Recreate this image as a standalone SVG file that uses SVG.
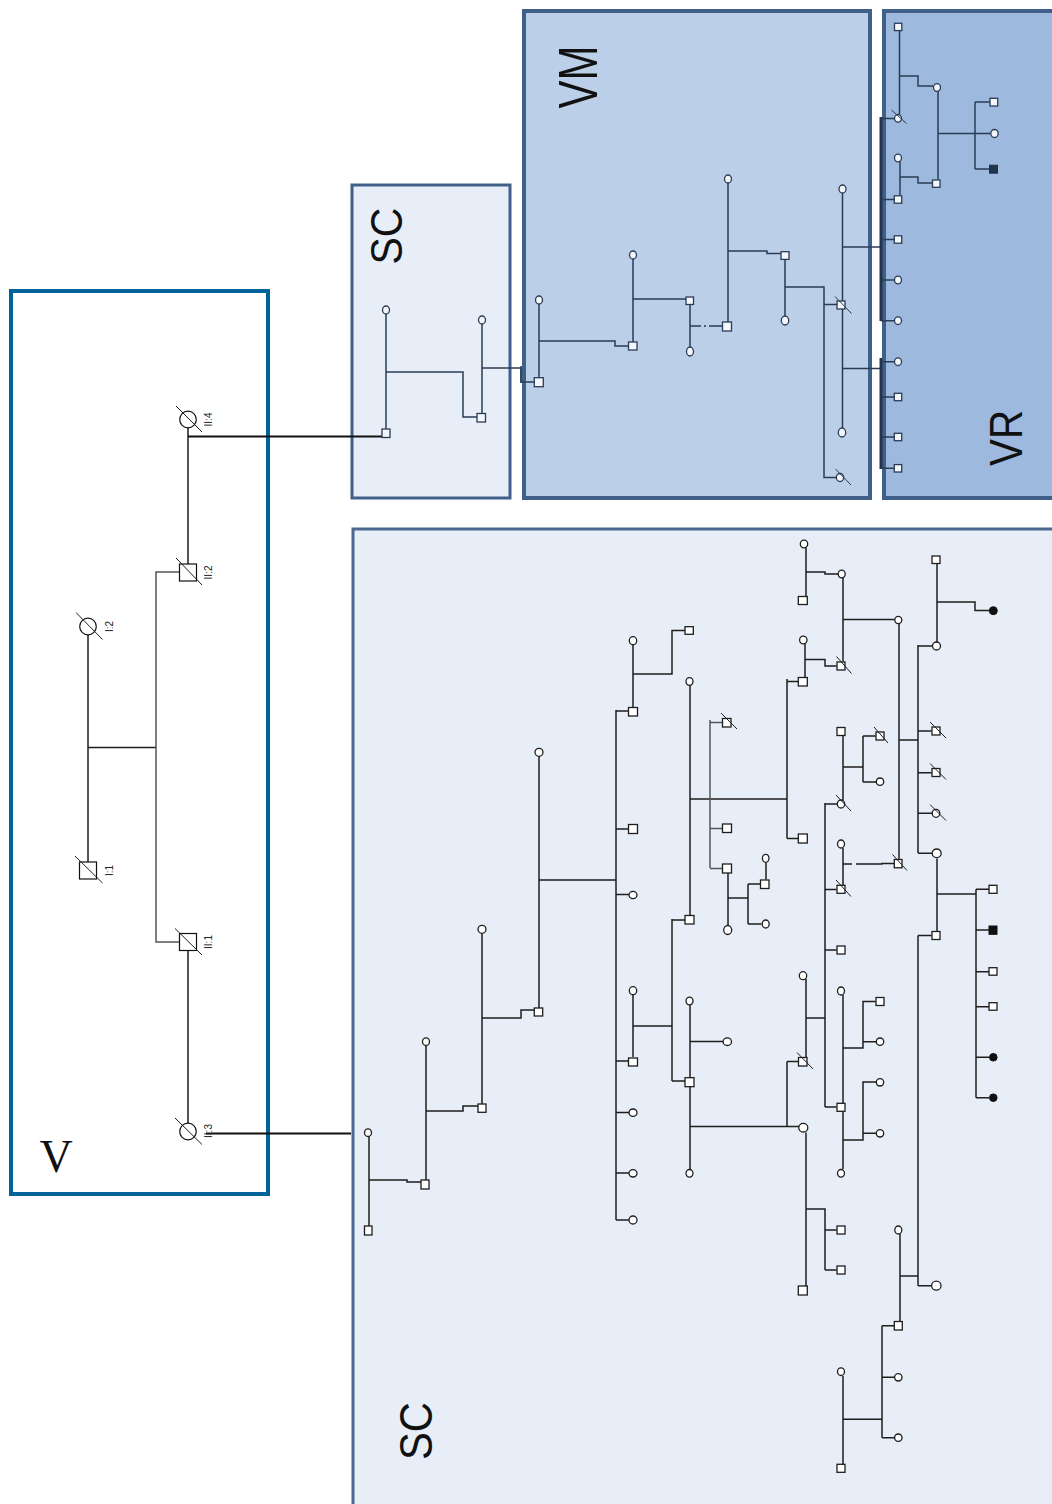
<svg xmlns="http://www.w3.org/2000/svg" width="1052" height="1504" viewBox="0 0 1052 1504">
<style>
.l{fill:none;stroke:#1e1e1e;stroke-width:1.5}
.lg{fill:none;stroke:#555;stroke-width:1.5}
.lk{fill:none;stroke:#111;stroke-width:2.2}
.lb{fill:none;stroke:#2a3c54;stroke-width:1.5}
.lbk{fill:none;stroke:#22344c;stroke-width:3}
.s{fill:#fff;stroke:#1e1e1e;stroke-width:1.3}
.sb{fill:#f3f6fb;stroke:#2a3c54;stroke-width:1.3}
.x{stroke:#1e1e1e;stroke-width:1}
.xb{stroke:#2a3c54;stroke-width:1}
.f{fill:#111;stroke:#111;stroke-width:1}
.fb{fill:#22344c;stroke:#22344c;stroke-width:1}
.v{fill:#fff;stroke:#111;stroke-width:1.2}
.lab{font-family:"Liberation Sans",Arial,sans-serif;font-size:10px;fill:#222}
.big{font-family:"Liberation Sans",Arial,sans-serif;fill:#111}
</style>
<rect width="1052" height="1504" fill="#fff"/>
<g id="boxes">
<rect id="box-V" x="11" y="291" width="257" height="903" fill="#fff" stroke="#00639a" stroke-width="4"/>
<rect id="box-SC-top" x="352" y="185" width="158" height="313" fill="#e7eef8" stroke="#40608a" stroke-width="3"/>
<rect id="box-VM" x="524" y="11" width="346" height="487" fill="#bccfe8" stroke="#40608a" stroke-width="4"/>
<rect id="box-VR" x="884" y="11" width="190" height="487" fill="#9db9dd" stroke="#40608a" stroke-width="4"/>
<rect id="box-SC-low" x="353" y="529" width="720" height="1000" fill="#e8eef7" stroke="#4a6890" stroke-width="3"/>
<text class="big" x="56" y="1172" font-family="'Liberation Serif',serif" font-size="46" text-anchor="middle" style="font-family:'Liberation Serif',serif">V</text>
<text class="big" x="402" y="236" font-size="44" text-anchor="middle" textLength="57" lengthAdjust="spacingAndGlyphs" transform="rotate(-90 402 236)">SC</text>
<text class="big" x="597" y="77" font-size="56" text-anchor="middle" textLength="63" lengthAdjust="spacingAndGlyphs" transform="rotate(-90 597 77)">VM</text>
<text class="big" x="1022" y="438" font-size="47" text-anchor="middle" textLength="56" lengthAdjust="spacingAndGlyphs" transform="rotate(-90 1022 438)">VR</text>
<text class="big" x="432" y="1431" font-size="47" text-anchor="middle" textLength="58" lengthAdjust="spacingAndGlyphs" transform="rotate(-90 432 1431)">SC</text>
</g>
<g id="connectors">
<path class="l" d="M188 428V564M88 635V862M88 747.5H156M188 950.5V1123"/>
<path class="lg" d="M179.5 572H156V942H179.5"/>
<path class="lk" d="M188 436.5H382M206 1133.5H351"/>
<path class="lb" d="M386 314V429M386 372H463V417H477M482 324V414M482 368H521V382H534"/>
<path class="lb" stroke-width="2.5" d="M521 366V383"/>
<path class="lb" d="M539 304V378M539 341H615V346H628M633 259V342M633 299H686M690 305V347M690 326H701M704 326H706M709 326H722M728 183V322M728 251H767V253.5H781M785 259.5V316M785 287H824V477.5H836M824 304.5H837M842.5 193V428M842.5 247H881M842.5 368.5H881"/>
<path class="lbk" d="M881 117V321M881 358V469"/>
<path class="lb" d="M881 118.5H894M881 199.5H894M881 239.5H894M881 280H894.5M881 320.7H894.5M881 361.7H894.5M881 397H894M881 437H894M881 468.3H894"/>
<path class="lb" d="M899.5 31V114M900 76H918V86H933M900 162V195M900 177H918V183H932M975 102V169M938 133.5H975M975 102H990M975 133.5H990.5M975 169H989.5"/>
<path class="lb" stroke-width="2.2" d="M938 91.5V179.5"/>
<path class="l" d="M369 1136V1226M369 1180H407V1182H421M426 1045V1180M426 1111H463V1106H478M482 933V1104M482 1018H521V1010H534M539 756V1008M539 880H616"/>
<path class="l" stroke-width="2.2" d="M616 710V1220"/>
<path class="l" d="M616 711H628M616 829H628M616 894.5H629M616 1061H628M616 1112.5H629M616 1173H629M616 1220H629"/>
<path class="l" d="M633 645V707M633 674H672V630.5H685M633 995V1057M633 1026H672M672 919V1081M672 920H685M672 1081H685"/>
<path class="l" d="M690 685V915M690 799H787M787 679V838.5M787 681.5H798M787 838.5H798"/>
<path class="lg" d="M710 720V868M710 722.5H722M710 828.5H722M710 868.5H722"/>
<path class="l" d="M728 873V925.5M728 898H748M748 884V924M748 884H760.5M748 924H761.5M766 862.5V879.5"/>
<path class="l" d="M690 1005V1169M690 1041.5H723M690 1126.5H799M787 1061.5V1126.5M787 1061.5H798"/>
<path class="l" d="M806 1132.5V1286M806 1209H825V1270M825 1230H836.5M825 1270H836.5"/>
<path class="l" d="M806 979V1057M806 1018H825M825 803V1107M825 804H837M825 889.5H836.5M825 950H836.5M825 1107H836.5"/>
<path class="l" d="M843 736V800M843 767H863M863 736V782M863 736H875.5M863 782H876"/>
<path class="l" d="M843 848V885M843 864H852M856 864H882V863.5H894"/>
<path class="l" d="M843 995V1169M843 1048H863V1001.5H875.5M863 1041.7H876M843 1140H863V1082H876M863 1133.3H876"/>
<path class="l" d="M806 548V596M806 572H825V574H838M843 578V661.5M843 619.5H894.5M805 644V677M805 659.5H825V666H836.5"/>
<path class="l" stroke-width="3.2" d="M899 624V859"/>
<path class="l" d="M899 740H918M918 645V853M918 646H932M918 731H931.5M918 772.7H931.5M918 813.3H932M918 853.3H932"/>
<path class="l" d="M937 564V642M937 602H975V610.5H989M937 858.5V931M937 894H976M976 889.3V1097.7M976 889.3H989M976 930H989M976 971.7H989M976 1006.7H989M976 1057.3H989M976 1097.7H989"/>
<path class="l" d="M918 935.5V1285.7M918 935.5H931.5M918 1285.7H931.5M900 1234V1321M900 1276H918M882 1325.7V1437.7M882 1325.7H894M882 1377.3H894.5M882 1437.7H894.5M843 1376V1464M843 1419.3H882"/>
</g>
<g id="n-I2"><circle class="v" cx="88" cy="626.5" r="8.3"/><line class="x" x1="76" y1="612.5" x2="102.5" y2="639.5"/><text class="lab" x="112.5" y="626.5" text-anchor="middle" transform="rotate(-90 112.5 626.5)">I:2</text></g>
<g id="n-I1"><rect class="v" x="79.5" y="862" width="17" height="17"/><line class="x" x1="75" y1="856" x2="102.5" y2="883"/><text class="lab" x="112.5" y="870.5" text-anchor="middle" transform="rotate(-90 112.5 870.5)">I:1</text></g>
<g id="n-II4"><circle class="v" cx="188" cy="419.5" r="8.3"/><line class="x" x1="176" y1="406" x2="202" y2="432"/><text class="lab" x="212" y="419.5" text-anchor="middle" transform="rotate(-90 212 419.5)">II:4</text></g>
<g id="n-II2"><rect class="v" x="179.5" y="564" width="17" height="17"/><line class="x" x1="176" y1="558" x2="202" y2="585"/><text class="lab" x="212" y="572.5" text-anchor="middle" transform="rotate(-90 212 572.5)">II:2</text></g>
<g id="n-II1"><rect class="v" x="179.5" y="933.5" width="17" height="17"/><line class="x" x1="175" y1="928.5" x2="202" y2="955"/><text class="lab" x="212" y="942" text-anchor="middle" transform="rotate(-90 212 942)">II:1</text></g>
<g id="n-II3"><circle class="v" cx="188" cy="1131.5" r="8.3"/><line class="x" x1="175" y1="1118" x2="202" y2="1144.5"/><text class="lab" x="212" y="1131" text-anchor="middle" transform="rotate(-90 212 1131)">II:3</text></g>
<g id="sct-1"><ellipse class="sb" cx="386" cy="310" rx="3.5" ry="4"/></g>
<g id="sct-2"><rect class="sb" x="382" y="429" width="8" height="8.5"/></g>
<g id="sct-3"><ellipse class="sb" cx="482" cy="320" rx="3.5" ry="4"/></g>
<g id="sct-4"><rect class="sb" x="477" y="413.5" width="8.5" height="8.5"/></g>
<g id="vm-1"><ellipse class="sb" cx="539" cy="300" rx="3.5" ry="4"/></g>
<g id="vm-2"><rect class="sb" x="534.3" y="377.7" width="9" height="9"/></g>
<g id="vm-3"><ellipse class="sb" cx="633" cy="255" rx="3.5" ry="4"/></g>
<g id="vm-4"><rect class="sb" x="628.5" y="342" width="8.5" height="8"/></g>
<g id="vm-5"><rect class="sb" x="686" y="297" width="7.5" height="7.5"/></g>
<g id="vm-6"><ellipse class="sb" cx="690" cy="351.5" rx="3.5" ry="4.5"/></g>
<g id="vm-7"><ellipse class="sb" cx="728" cy="179" rx="3.5" ry="4"/></g>
<g id="vm-8"><rect class="sb" x="722.5" y="322" width="9" height="9"/></g>
<g id="vm-9"><rect class="sb" x="781" y="251.7" width="8" height="7.7"/></g>
<g id="vm-10"><ellipse class="sb" cx="785" cy="320.5" rx="3.7" ry="4.5"/></g>
<g id="vm-11"><ellipse class="sb" cx="842.5" cy="189" rx="3.5" ry="4"/></g>
<g id="vm-12"><rect class="sb" x="837" y="301" width="8" height="8"/><line class="xb" x1="835" y1="296.5" x2="851.5" y2="313.5"/></g>
<g id="vm-13"><ellipse class="sb" cx="842" cy="432.5" rx="3.7" ry="4.5"/></g>
<g id="vm-14"><ellipse class="sb" cx="840" cy="477.5" rx="3.7" ry="4"/><line class="xb" x1="835.5" y1="469" x2="851" y2="485"/></g>
<g id="vr-1"><rect class="sb" x="894.5" y="23.3" width="7.3" height="7.3"/></g>
<g id="vr-2"><ellipse class="sb" cx="898" cy="118.3" rx="3.5" ry="3.8"/><line class="xb" x1="891.5" y1="110" x2="906.5" y2="123.5"/></g>
<g id="vr-3"><ellipse class="sb" cx="937" cy="87.5" rx="3.5" ry="3.8"/></g>
<g id="vr-4"><ellipse class="sb" cx="898" cy="158" rx="3.5" ry="3.8"/></g>
<g id="vr-5"><rect class="sb" x="932.5" y="180" width="7.5" height="7.3"/></g>
<g id="vr-6"><rect class="sb" x="894.3" y="195.8" width="7.4" height="7.4"/></g>
<g id="vr-7"><rect class="sb" x="894.3" y="235.8" width="7.4" height="7.4"/></g>
<g id="vr-8"><ellipse class="sb" cx="898" cy="280" rx="3.5" ry="3.8"/></g>
<g id="vr-9"><ellipse class="sb" cx="898" cy="320.7" rx="3.5" ry="3.8"/></g>
<g id="vr-10"><ellipse class="sb" cx="898" cy="361.7" rx="3.5" ry="3.8"/></g>
<g id="vr-11"><rect class="sb" x="894.3" y="393.3" width="7.4" height="7.4"/></g>
<g id="vr-12"><rect class="sb" x="894.3" y="433.3" width="7.4" height="7.4"/></g>
<g id="vr-13"><rect class="sb" x="894.3" y="464.6" width="7.4" height="7.4"/></g>
<g id="vr-14"><rect class="sb" x="990" y="98.3" width="7.7" height="7.7"/></g>
<g id="vr-15"><ellipse class="sb" cx="994.5" cy="133.5" rx="3.7" ry="4"/></g>
<g id="vr-16"><rect class="fb" x="989.5" y="165.2" width="8" height="8"/></g>
<g id="sc-1"><ellipse class="s" cx="368" cy="1132.7" rx="3.5" ry="3.8"/></g>
<g id="sc-2"><rect class="s" x="364.5" y="1226" width="7.5" height="9"/></g>
<g id="sc-3"><ellipse class="s" cx="426" cy="1041.7" rx="3.5" ry="3.8"/></g>
<g id="sc-4"><rect class="s" x="421" y="1180" width="8" height="9"/></g>
<g id="sc-5"><ellipse class="s" cx="482" cy="929.3" rx="4" ry="4"/></g>
<g id="sc-6"><rect class="s" x="478" y="1104" width="8" height="8.3"/></g>
<g id="sc-7"><ellipse class="s" cx="539" cy="752.3" rx="4" ry="4"/></g>
<g id="sc-8"><rect class="s" x="534.3" y="1008" width="8.4" height="8"/></g>
<g id="sc-9"><ellipse class="s" cx="633" cy="640.7" rx="3.7" ry="4"/></g>
<g id="sc-10"><rect class="s" x="628.5" y="707.5" width="9" height="8.5"/></g>
<g id="sc-11"><rect class="s" x="685" y="626.7" width="8.3" height="7.6"/></g>
<g id="sc-12"><rect class="s" x="628.5" y="824.5" width="9" height="9"/></g>
<g id="sc-13"><ellipse class="s" cx="633" cy="895" rx="4" ry="3.7"/></g>
<g id="sc-14"><ellipse class="s" cx="633" cy="990.7" rx="3.7" ry="4"/></g>
<g id="sc-15"><rect class="s" x="628.5" y="1058" width="9" height="8"/></g>
<g id="sc-16"><ellipse class="s" cx="633" cy="1112.7" rx="4" ry="3.7"/></g>
<g id="sc-17"><ellipse class="s" cx="633" cy="1173.3" rx="4" ry="3.7"/></g>
<g id="sc-18"><ellipse class="s" cx="633" cy="1220" rx="4" ry="4"/></g>
<g id="sc-19"><ellipse class="s" cx="689.5" cy="681.5" rx="3.5" ry="3.8"/></g>
<g id="sc-20"><rect class="s" x="685" y="915.5" width="9" height="8.5"/></g>
<g id="sc-21"><ellipse class="s" cx="689.5" cy="1001" rx="3.5" ry="3.8"/></g>
<g id="sc-22"><rect class="s" x="685" y="1077.7" width="9" height="9"/></g>
<g id="sc-23"><ellipse class="s" cx="689.5" cy="1173.3" rx="3.5" ry="3.8"/></g>
<g id="sc-24"><rect class="s" x="722.5" y="718.5" width="8.5" height="8.5"/><line class="x" x1="721" y1="713" x2="737" y2="729"/></g>
<g id="sc-25"><rect class="s" x="722.5" y="824" width="9" height="8.5"/></g>
<g id="sc-26"><rect class="s" x="722.5" y="864" width="9" height="9"/></g>
<g id="sc-27"><ellipse class="s" cx="727.7" cy="930" rx="4" ry="4.5"/></g>
<g id="sc-28"><ellipse class="s" cx="727.3" cy="1041.7" rx="4.2" ry="3.8"/></g>
<g id="sc-29"><ellipse class="s" cx="765.7" cy="858.3" rx="3.3" ry="4"/></g>
<g id="sc-30"><rect class="s" x="760.5" y="880" width="8.5" height="8.5"/></g>
<g id="sc-31"><ellipse class="s" cx="765.7" cy="924" rx="3.5" ry="4"/></g>
<g id="sc-32"><ellipse class="s" cx="804" cy="544" rx="3.7" ry="3.8"/></g>
<g id="sc-33"><rect class="s" x="798.3" y="596.5" width="9" height="8"/></g>
<g id="sc-34"><ellipse class="s" cx="803.3" cy="640" rx="3.7" ry="3.8"/></g>
<g id="sc-35"><rect class="s" x="798.3" y="677.5" width="9" height="8.5"/></g>
<g id="sc-36"><rect class="s" x="798.3" y="834" width="9" height="9"/></g>
<g id="sc-37"><ellipse class="s" cx="803" cy="975.7" rx="3.7" ry="4"/></g>
<g id="sc-38"><rect class="s" x="798.5" y="1057.5" width="8.5" height="8.5"/><line class="x" x1="797" y1="1052.5" x2="813" y2="1069"/></g>
<g id="sc-39"><ellipse class="s" cx="803.3" cy="1127.7" rx="4.5" ry="4.3"/></g>
<g id="sc-40"><rect class="s" x="798.3" y="1286" width="9" height="9"/></g>
<g id="sc-41"><ellipse class="s" cx="841.7" cy="574" rx="3.5" ry="3.8"/></g>
<g id="sc-42"><rect class="s" x="837" y="662" width="8" height="8"/><line class="x" x1="836.5" y1="656.5" x2="851.5" y2="673.5"/></g>
<g id="sc-43"><rect class="s" x="837" y="727.5" width="8" height="8"/></g>
<g id="sc-44"><ellipse class="s" cx="841" cy="804" rx="3.7" ry="4"/><line class="x" x1="836" y1="795" x2="851" y2="811"/></g>
<g id="sc-45"><ellipse class="s" cx="841" cy="844" rx="3.5" ry="4"/></g>
<g id="sc-46"><rect class="s" x="837" y="885.3" width="8" height="8"/><line class="x" x1="836" y1="880" x2="851" y2="896.5"/></g>
<g id="sc-47"><rect class="s" x="837" y="946" width="8" height="8"/></g>
<g id="sc-48"><ellipse class="s" cx="841" cy="991" rx="3.5" ry="4"/></g>
<g id="sc-49"><rect class="s" x="837" y="1103.3" width="8" height="8"/></g>
<g id="sc-50"><ellipse class="s" cx="841" cy="1173.3" rx="3.5" ry="3.8"/></g>
<g id="sc-51"><rect class="s" x="837" y="1226" width="8" height="8"/></g>
<g id="sc-52"><rect class="s" x="837" y="1266" width="8" height="8"/></g>
<g id="sc-53"><ellipse class="s" cx="841" cy="1371.7" rx="3.5" ry="3.8"/></g>
<g id="sc-54"><rect class="s" x="837" y="1464.3" width="8" height="8"/></g>
<g id="sc-55"><rect class="s" x="876" y="732" width="8" height="8"/><line class="x" x1="874" y1="727" x2="888" y2="743"/></g>
<g id="sc-56"><ellipse class="s" cx="880" cy="781.7" rx="3.7" ry="3.7"/></g>
<g id="sc-57"><rect class="s" x="876" y="997.5" width="8" height="8"/></g>
<g id="sc-58"><ellipse class="s" cx="880" cy="1041.7" rx="3.7" ry="3.7"/></g>
<g id="sc-59"><ellipse class="s" cx="880" cy="1082.3" rx="3.7" ry="3.7"/></g>
<g id="sc-60"><ellipse class="s" cx="880" cy="1133.3" rx="3.7" ry="3.7"/></g>
<g id="sc-61"><ellipse class="s" cx="898.3" cy="620" rx="3.5" ry="3.7"/></g>
<g id="sc-62"><rect class="s" x="894.3" y="859.5" width="7.7" height="8.3"/><line class="x" x1="892.5" y1="854.5" x2="907" y2="870.5"/></g>
<g id="sc-63"><ellipse class="s" cx="898.3" cy="1230" rx="3.5" ry="4"/></g>
<g id="sc-64"><rect class="s" x="894.3" y="1321.5" width="8" height="8.5"/></g>
<g id="sc-65"><ellipse class="s" cx="898.3" cy="1377.3" rx="3.7" ry="3.7"/></g>
<g id="sc-66"><ellipse class="s" cx="898.3" cy="1437.7" rx="3.7" ry="3.7"/></g>
<g id="sc-67"><rect class="s" x="932" y="556" width="8" height="7.5"/></g>
<g id="sc-68"><ellipse class="s" cx="936.5" cy="646" rx="4" ry="4"/></g>
<g id="sc-69"><rect class="s" x="932" y="727" width="8" height="8"/><line class="x" x1="930" y1="722" x2="946" y2="738"/></g>
<g id="sc-70"><rect class="s" x="932" y="768.5" width="8" height="8"/><line class="x" x1="930" y1="763.5" x2="946" y2="779.5"/></g>
<g id="sc-71"><ellipse class="s" cx="936" cy="813.3" rx="3.8" ry="4"/><line class="x" x1="930" y1="804.5" x2="946" y2="820.5"/></g>
<g id="sc-72"><ellipse class="s" cx="936.7" cy="853.3" rx="4.5" ry="4.3"/></g>
<g id="sc-73"><rect class="s" x="932" y="931.5" width="8" height="8"/></g>
<g id="sc-74"><ellipse class="s" cx="936.3" cy="1285.7" rx="4.7" ry="4.5"/></g>
<g id="sc-75"><circle class="f" cx="993.3" cy="610.7" r="4"/></g>
<g id="sc-76"><rect class="s" x="989" y="885.3" width="8" height="8"/></g>
<g id="sc-77"><rect class="f" x="989" y="926" width="8" height="8.3"/></g>
<g id="sc-78"><rect class="s" x="989" y="967.7" width="8" height="7.5"/></g>
<g id="sc-79"><rect class="s" x="989" y="1002.7" width="8" height="7.5"/></g>
<g id="sc-80"><circle class="f" cx="993.3" cy="1057.3" r="3.8"/></g>
<g id="sc-81"><circle class="f" cx="993.3" cy="1097.7" r="3.8"/></g>
</svg>
